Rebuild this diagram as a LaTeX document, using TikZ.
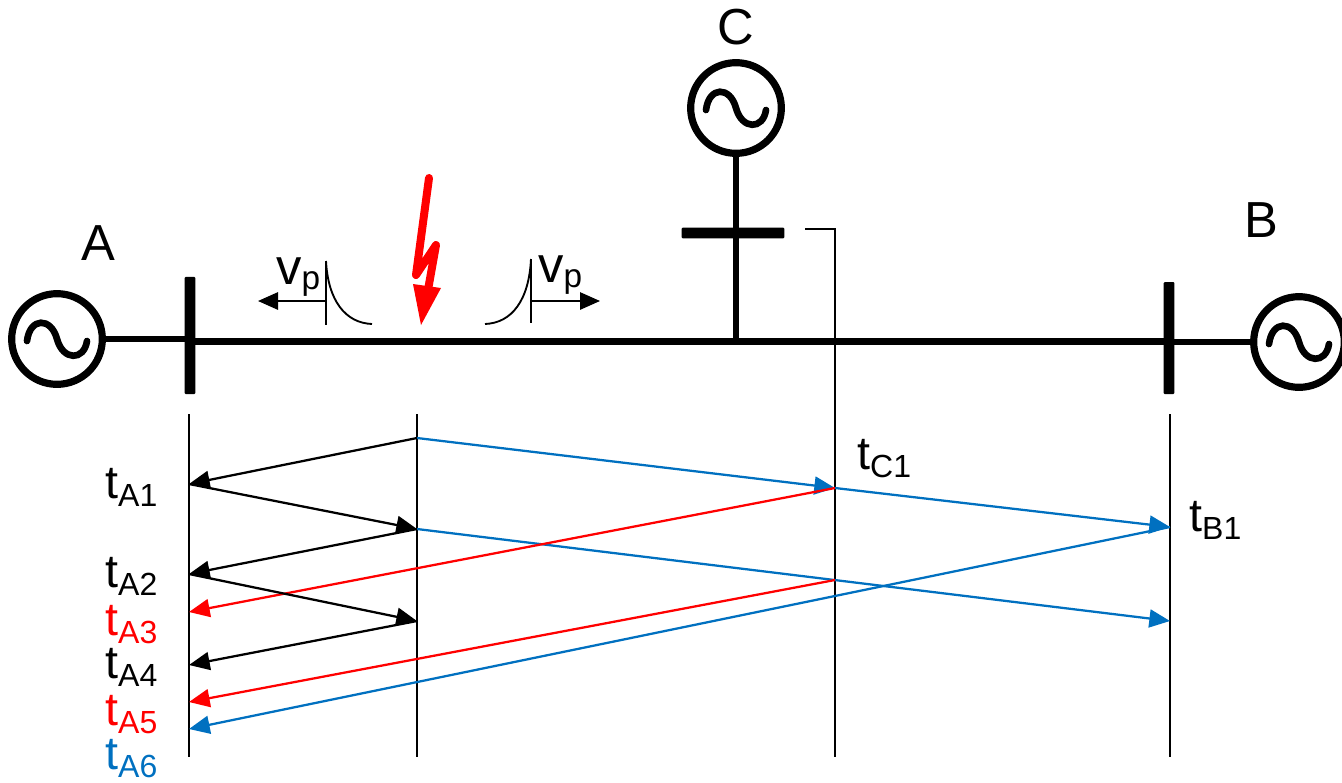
\documentclass[tikz,border=0pt]{standalone}
\usepackage{fontspec}
\setmainfont{Liberation Sans}
\usetikzlibrary{arrows.meta,calc}
\definecolor{myblue}{RGB}{0,112,192}
\definecolor{myred}{RGB}{255,0,0}
\newcommand{\tlab}[1]{{\fontsize{35}{35}\selectfont t}\raisebox{-6pt}{\fontsize{24}{24}\selectfont #1}}
\newcommand{\vlab}{{\fontsize{38}{38}\selectfont v}\raisebox{-4pt}{\fontsize{25}{25}\selectfont p}}
\tikzset{
  gen/.style={circle,draw=black,line width=5.4pt,minimum size=68pt,inner sep=0pt},
  busbar/.style={fill=black,rounded corners=0.8pt,inner sep=0pt},
  wire/.style={line width=5pt,black},
  sinewave/.style={line width=5pt,line cap=round,black},
  tline/.style={line width=1.6pt,black},
  thin wave/.style={line width=1.4pt,black},
  msg/.style={line width=1.7pt,-{Triangle[length=15.5pt,width=13.5pt]}},
  small arrow/.style={line width=1.4pt,black,-{Triangle[length=15pt,width=13pt]}},
  tlabel/.style={anchor=base west,inner sep=0pt},
  biglabel/.style={font=\fontsize{38}{38}\selectfont,inner sep=0pt},
}
\newcommand{\sinein}[1]{\draw[sinewave] ($(#1)+(-30,2)$) .. controls ($(#1)+(-27,-22)$) and ($(#1)+(-6,-22)$) .. (#1) .. controls ($(#1)+(6,22)$) and ($(#1)+(27,22)$) .. ($(#1)+(30,2)$);}
\begin{document}
\begin{tikzpicture}[x=0.75pt,y=-0.75pt]
\useasboundingbox (0,0) rectangle (1342,782);
% generators
\node[gen] (genA) at (57,339) {};
\node[gen] (genC) at (736,108) {};
\node[gen] (genB) at (1299,342) {};
\sinein{genA.center}
\sinein{genC.center}
\sinein{genB.center}
% buses
\node[busbar,minimum width=8pt,minimum height=88pt] (busA) at (190,335.5) {};
\node[busbar,minimum width=8pt,minimum height=84pt] (busB) at (1169,338) {};
\node[busbar,minimum width=77pt,minimum height=8pt] (busC) at (733,233) {};
% wires
\coordinate (junction) at (736,341.5);
\draw[wire] (genA.east) -- (genA.east -| busA.center);
\draw[wire] (busA.center |- junction) -- (busB.center |- junction);
\draw[wire] (genB.west) -- (genB.west -| busB.center);
\draw[wire] (genC.south) -- (junction);
% time lines
\coordinate (Atop) at (189,414); \coordinate (Abot) at (189,757);
\coordinate (Ftop) at (417,414); \coordinate (Fbot) at (417,757);
\coordinate (Cstart) at (805,229); \coordinate (Ctop) at (835,229); \coordinate (Cbot) at (835,757);
\coordinate (Btop) at (1170,414); \coordinate (Bbot) at (1170,757);
\draw[tline] (Atop) -- (Abot);
\draw[tline] (Ftop) -- (Fbot);
\draw[tline] (Cstart) -- (Ctop) -- (Cbot);
\draw[tline] (Btop) -- (Bbot);
% event points
\coordinate (a1) at (189,484); \coordinate (a2) at (189,574);
\coordinate (a3) at (189,612); \coordinate (a4) at (189,665);
\coordinate (a5) at (189,702); \coordinate (a6) at (189,729);
\coordinate (f0) at (417,438); \coordinate (f1) at (417,529); \coordinate (f2) at (417,621);
\coordinate (c1) at (835,488); \coordinate (c2) at (835,580);
\coordinate (b1) at (1170,527); \coordinate (b2) at (1170,621);
% messages
\draw[msg,myblue] (f0) -- (c1);
\draw[msg,myblue] (c1) -- (b1);
\draw[msg,myblue] (f1) -- (b2);
\draw[msg,myblue] (b1) -- (a6);
\draw[msg,myred] (c1) -- (a3);
\draw[msg,myred] (c2) -- (a5);
\draw[msg,black] (f0) -- (a1);
\draw[msg,black] (a1) -- (f1);
\draw[msg,black] (f1) -- (a2);
\draw[msg,black] (a2) -- (f2);
\draw[msg,black] (f2) -- (a4);
% wave fronts
\coordinate (lt) at (326,261); \coordinate (lb) at (326,325); \coordinate (lm) at (326,301);
\coordinate (lend) at (372,324); \coordinate (larrow) at (258,301);
\coordinate (rt) at (531,259); \coordinate (rb) at (531,323); \coordinate (rm) at (531,301);
\coordinate (rend) at (485,324); \coordinate (rarrow) at (600,301);
\draw[thin wave] (lt) -- (lb);
\draw[thin wave] (lt) .. controls (328,300) and (345,323) .. (lend);
\draw[small arrow] (lm) -- (larrow);
\draw[thin wave] (rt) -- (rb);
\draw[thin wave] (rt) .. controls (529,300) and (512,323) .. (rend);
\draw[small arrow] (rm) -- (rarrow);
% lightning
\draw[myred,line width=6pt,line cap=round,line join=round] (429,178) -- (416,275) -- (436,245) -- (428,290);
\fill[myred] (413,284) -- (441,288) -- (421,325) -- cycle;
% labels
\node[biglabel] (lA) at (98,243) {A};
\node[biglabel] (lB) at (1261,220) {B};
\node[biglabel] (lC) at (736,27) {C};
\node[tlabel] (vl) at (276,284) {\vlab};
\node[tlabel] (vr) at (538,282) {\vlab};
\node[tlabel,black] (ta1) at (105,498) {\tlab{A1}};
\node[tlabel,black] (ta2) at (105,587) {\tlab{A2}};
\node[tlabel,myred] (ta3) at (105,635) {\tlab{A3}};
\node[tlabel,black] (ta4) at (105,678) {\tlab{A4}};
\node[tlabel,myred] (ta5) at (105,725) {\tlab{A5}};
\node[tlabel,myblue] (ta6) at (105,769) {\smash{\tlab{A6}}};
\node[tlabel,black] (tc1) at (857,469) {\tlab{C1}};
\node[tlabel,black] (tb1) at (1189,531) {\tlab{B1}};
\end{tikzpicture}
\end{document}
